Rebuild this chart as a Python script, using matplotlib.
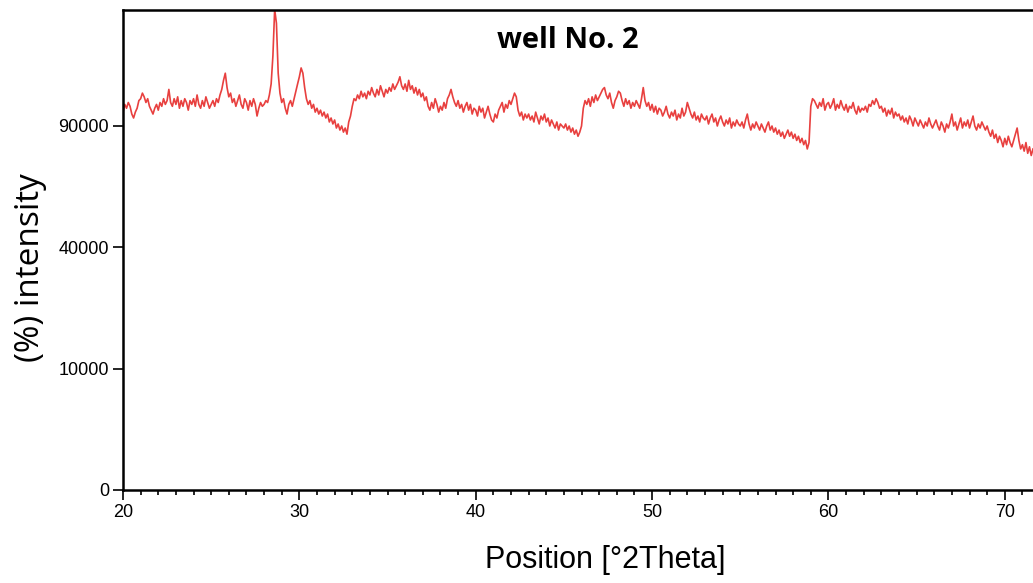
import numpy as np
import matplotlib
matplotlib.use("Agg")
import matplotlib.pyplot as plt
from matplotlib.ticker import FixedLocator, MultipleLocator

# XRD scan of well No. 2, counts in thousands, one reading every 0.1 deg 2theta
two_theta_start = 20.0
two_theta_step = 0.1

counts_20_30 = [
    97, 101, 99, 102, 100, 96, 94, 97, 99, 103,
    104, 107, 105, 102, 104, 100, 98, 96, 99, 101,
    98, 102, 100, 104, 101, 103, 109, 102, 100, 104,
    101, 105, 99, 103, 100, 104, 102, 98, 103, 101,
    104, 100, 106, 101, 99, 103, 100, 105, 102, 99,
    101, 103, 100, 104, 102, 106, 109, 114, 118, 110,
    105, 107, 102, 104, 100, 103, 106, 101, 99, 104,
    102, 98, 103, 100, 104, 101, 95, 99, 102, 100,
    101, 103, 102, 106, 112, 128, 157, 148, 118, 107,
    102, 104, 99, 96, 101, 103, 100, 104, 108, 112,
]
counts_30_40 = [
    116, 121, 118, 110, 104, 101, 103, 99, 101, 97,
    99, 96, 98, 95, 97, 94, 96, 92, 94, 91,
    93, 89, 91, 88, 90, 87, 89, 86, 92, 95,
    100, 104, 103, 106, 104, 108, 105, 107, 104, 108,
    106, 110, 107, 105, 109, 106, 111, 108, 105, 109,
    107, 110, 108, 112, 109, 111, 113, 116, 111, 109,
    112, 108, 114, 109, 111, 107, 110, 106, 109, 105,
    107, 103, 105, 100, 98, 102, 99, 104, 101, 97,
    100, 98, 102, 99, 104, 106, 109, 105, 102, 100,
    103, 99, 101, 97, 100, 102, 98, 101, 96, 99,
]
counts_40_50 = [
    98, 95, 100, 97, 99, 94, 97, 100, 96, 93,
    92, 96, 94, 98, 100, 102, 97, 101, 99, 103,
    101, 104, 107, 105, 98, 95, 97, 93, 96, 94,
    96, 93, 95, 92, 97, 94, 91, 95, 93, 96,
    92, 94, 90, 93, 91, 89, 92, 88, 91, 90,
    89, 91, 88, 90, 87, 89, 86, 88, 85, 87,
    90, 99, 103, 101, 104, 100, 105, 102, 106, 103,
    105, 107, 109, 110, 106, 104, 107, 102, 99, 103,
    105, 108, 107, 103, 100, 104, 101, 103, 99, 102,
    100, 103, 101, 99, 104, 110, 103, 100, 102, 98,
]
counts_50_60 = [
    101, 97, 100, 96, 99, 98, 95, 97, 100, 96,
    94, 97, 95, 98, 93, 96, 94, 99, 95, 97,
    102, 99, 96, 94, 97, 93, 95, 92, 96, 94,
    93, 95, 91, 94, 96, 92, 94, 90, 93, 95,
    92, 90, 93, 91, 94, 89, 92, 90, 93, 91,
    90, 92, 89, 93, 96, 91, 88, 91, 89, 92,
    90, 88, 91, 89, 87, 90, 92, 88, 90, 87,
    89, 86, 88, 85, 87, 84, 86, 88, 85, 87,
    84, 86, 83, 85, 82, 84, 81, 83, 79, 82,
    100, 104, 103, 101, 99, 102, 100, 104, 98, 101,
]
counts_60_72 = [
    102, 99, 101, 104, 98, 101, 99, 103, 100, 98,
    101, 97, 100, 99, 102, 98, 96, 100, 97, 99,
    98, 100, 97, 101, 100, 103, 101, 104, 102, 99,
    100, 97, 99, 95, 98, 96, 99, 94, 97, 95,
    96, 93, 95, 92, 94, 91, 95, 93, 90, 94,
    92, 90, 93, 91, 89, 92, 90, 94, 91, 89,
    91, 93, 90, 88, 92, 90, 87, 91, 89, 92,
    96, 90, 92, 88, 91, 94, 89, 92, 90, 93,
    89, 92, 95, 90, 88, 91, 89, 92, 90, 88,
    90, 87, 85, 88, 84, 86, 82, 85, 83, 80,
    84, 81, 85, 82, 80, 83, 86, 89, 83, 79,
    81, 78, 82, 77, 80, 76, 79,
]

y_ticks = [0, 10000, 40000, 90000]
x_ticks = [20, 30, 40, 50, 60, 70]

intensity = np.array(counts_20_30 + counts_30_40 + counts_40_50
                     + counts_50_60 + counts_60_72, dtype=float) * 1000
position = two_theta_start + two_theta_step * np.arange(len(intensity))

plain = ["Liberation Sans", "DejaVu Sans"]

fig = plt.figure(figsize=(10.33, 5.83), dpi=100)
ax = fig.add_axes([123 / 1033, 93 / 583, 910 / 1033, 480 / 583])

ax.plot(position, intensity, color="#e8403f", linewidth=1.2)

# square-root intensity axis
ax.set_yscale("function", functions=(lambda v: np.sqrt(np.clip(v, 0, None)), np.square))
ax.set_ylim(0, 156500)
ax.set_xlim(20, 71.6)

ax.yaxis.set_major_locator(FixedLocator(y_ticks))
ax.yaxis.set_minor_locator(FixedLocator([]))
ax.set_yticklabels([str(t) for t in y_ticks])
ax.xaxis.set_major_locator(FixedLocator(x_ticks))
ax.xaxis.set_minor_locator(MultipleLocator(1))

for side in ["left", "bottom", "top"]:
    ax.spines[side].set_linewidth(1.8)
ax.spines["right"].set_visible(False)

ax.tick_params(axis="both", which="major", direction="out", length=7, width=1.2,
               labelsize=13, pad=3)
ax.tick_params(axis="x", which="minor", direction="out", length=3.5, width=1.2)
for lbl in ax.get_xticklabels() + ax.get_yticklabels():
    lbl.set_family(plain)

ax.text(0.489, 0.9375, "well No. 2", transform=ax.transAxes, ha="center",
        va="center", fontsize=21, fontweight="bold", family=["Open Sans", "DejaVu Sans"])

fig.text(605 / 1033, 1 - 560 / 583, "Position [°2Theta]", ha="center", va="center",
         fontsize=22, family=plain)
fig.text(31 / 1033, 1 - 268 / 583, "(%) intensity", ha="center", va="center",
         rotation=90, fontsize=24, family=["Open Sans", "DejaVu Sans"])

fig.savefig("out.png", dpi=100)
